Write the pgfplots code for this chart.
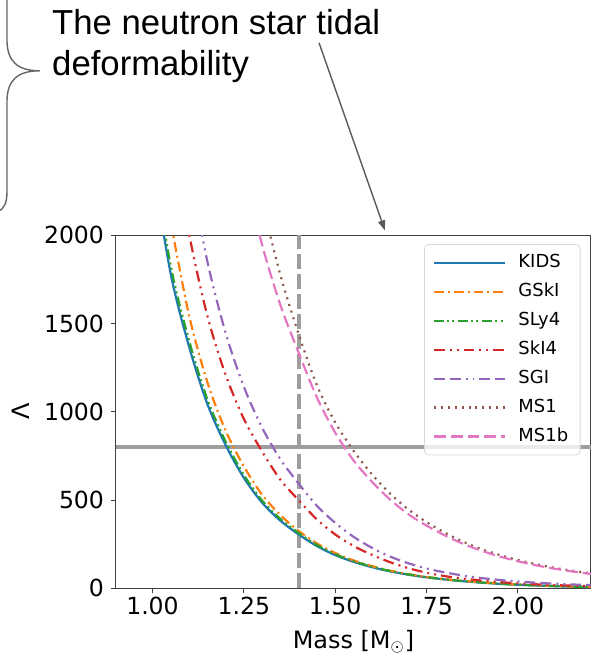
\documentclass[border=0pt]{standalone}
\usepackage{pgfplots}
\pgfplotsset{compat=1.18}
\usepackage{fontspec}
\setmainfont{DejaVu Sans}
\newfontfamily\arial{Liberation Sans}
\usetikzlibrary{arrows.meta}
\definecolor{cKIDS}{HTML}{1F77B4}
\definecolor{cGSkI}{HTML}{FF7F0E}
\definecolor{cSLy}{HTML}{2CA02C}
\definecolor{cSkI}{HTML}{D62728}
\definecolor{cSGI}{HTML}{9467BD}
\definecolor{cMS}{HTML}{8C564B}
\definecolor{cMSb}{HTML}{E377C2}

\pgfplotstableread{
M L
1.00 2400
1.05 1780
1.10 1370
1.15 1045
1.20 812
1.25 626
1.30 485
1.35 383
1.40 305
1.45 239
1.50 188
1.55 150
1.60 120
1.65 96
1.70 77
1.75 62
1.80 50
1.85 40
1.90 32
1.95 25
2.00 20
2.05 16
2.10 12
2.15 9
2.20 7
}\kids
\pgfplotstableread{
M L
1.05 2073
1.10 1547
1.15 1169
1.20 894
1.25 691
1.30 530
1.35 415
1.40 325
1.45 254
1.50 200
1.55 158
1.60 126
1.65 100
1.70 80
1.75 64
1.80 52
1.85 42
1.90 34
1.95 27
2.00 21.5
2.05 17
2.10 13
2.15 10
2.20 8
}\gski
\pgfplotstableread{
M L
1.00 2460
1.05 1825
1.10 1404
1.15 1071
1.20 832
1.25 642
1.30 497
1.35 393
1.40 313
1.45 245
1.50 193
1.55 154
1.60 123
1.65 98
1.70 79
1.75 63.5
1.80 51
1.85 41
1.90 33
1.95 26
2.00 20.5
2.05 16.5
2.10 12.5
2.15 9.5
2.20 7.2
}\sly
\pgfplotstableread{
M L
1.05 2633
1.10 2010
1.15 1545
1.20 1210
1.25 960
1.30 775
1.35 615
1.40 499
1.45 390
1.50 305
1.55 240
1.60 190
1.65 148
1.70 114
1.75 88
1.80 69
1.85 55
1.90 44
1.95 35
2.00 28
2.05 22.5
2.10 18
2.15 15
2.20 12
}\skI
\pgfplotstableread{
M L
1.10 2398
1.15 1853
1.20 1448
1.25 1142
1.30 910
1.35 731
1.40 593
1.45 467
1.50 371
1.55 292
1.60 230
1.65 180
1.70 142
1.75 112
1.80 90
1.85 72
1.90 58
1.95 47
2.00 38.5
2.05 31.5
2.10 26
2.15 21.5
2.20 18
}\sgi
\pgfplotstableread{
M L
1.30 2184
1.35 1775
1.40 1440
1.45 1150
1.50 940
1.55 780
1.60 647
1.65 537
1.70 447
1.75 375
1.80 315
1.85 264
1.90 222
1.95 189
2.00 160
2.05 136
2.10 116
2.15 99
2.20 85
}\msone
\pgfplotstableread{
M L
1.25 2377
1.30 1946
1.35 1605
1.40 1335
1.45 1081
1.50 882
1.55 725
1.60 605
1.65 503
1.70 420
1.75 355
1.80 300
1.85 252
1.90 213
1.95 180
2.00 153
2.05 130
2.10 111
2.15 95
2.20 81
}\msoneb

\begin{document}
\begin{tikzpicture}
\begin{axis}[
  name=main, anchor=south west,
  scale only axis, width=238.2pt, height=177pt,
  xmin=0.9, xmax=2.2, ymin=0, ymax=2000,
  axis line style={black!75, line width=0.5pt},
  tick style={black!75, line width=0.5pt},
  tick align=outside, major tick length=2.5pt,
  xtick={1,1.25,1.5,1.75,2}, ytick={0,500,1000,1500,2000},
  xtick pos=bottom, ytick pos=left,
  /pgf/number format/assume math mode=true,
  x tick label style={yshift=1.5pt, /pgf/number format/fixed, /pgf/number format/fixed zerofill, /pgf/number format/precision=2},
  y tick label style={/pgf/number format/fixed, /pgf/number format/1000 sep={}},
  scaled ticks=false,
  tick label style={font=\fontsize{11.8}{14}\selectfont},
  label style={font=\fontsize{12}{14}\selectfont},
  xlabel={Mass [M$_{\odot}$]}, ylabel={Λ},
  xlabel style={at={(axis description cs:0.5,-0.1695)}, anchor=base},
  ylabel style={at={(axis description cs:-0.2,0.5)}, anchor=center},
  legend style={at={(0.978,0.975)}, anchor=north east, draw=black!15, rounded corners=2pt,
    fill=white, fill opacity=0.8, text opacity=1, font=\fontsize{9}{11}\selectfont,
    inner xsep=4pt, inner ysep=2pt,
    nodes={text height=7pt, text depth=2pt, inner ysep=2.75pt},
    /tikz/every odd column/.append style={column sep=4pt}},
  legend cell align=left,
  legend image code/.code={\draw[#1] (0pt,0pt) -- (36pt,0pt);},
  every axis plot/.append style={line width=1.1pt},
]
\addplot[black!38, line width=1.8pt, forget plot] coordinates {(0.9,800) (2.2,800)};
\addplot[black!38, line width=2pt, dash pattern=on 7.5pt off 2.5pt, forget plot] coordinates {(1.4,0) (1.4,2000)};
\addplot[cKIDS, smooth] table[x=M,y=L] {\kids};
\addlegendentry{KIDS}
\addplot[cGSkI, smooth, dash pattern=on 5pt off 2pt on 1pt off 2pt] table[x=M,y=L] {\gski};
\addlegendentry{GSkI}
\addplot[cSLy, smooth, dash pattern=on 5pt off 1.7pt on 1pt off 1.7pt on 1pt off 1.7pt] table[x=M,y=L] {\sly};
\addlegendentry{SLy4}
\addplot[cSkI, smooth, dash pattern=on 5.5pt off 2.5pt on 1pt off 2.5pt on 1pt off 2.5pt] table[x=M,y=L] {\skI};
\addlegendentry{SkI4}
\addplot[cSGI, smooth, dash pattern=on 5.5pt off 2.5pt on 5.5pt off 2.5pt on 1pt off 2.5pt on 1pt off 2.5pt] table[x=M,y=L] {\sgi};
\addlegendentry{SGI}
\addplot[cMS, smooth, dash pattern=on 1pt off 2.5pt] table[x=M,y=L] {\msone};
\addlegendentry{MS1}
\addplot[cMSb, smooth, dash pattern=on 6pt off 2.5pt] table[x=M,y=L] {\msoneb};
\addlegendentry{MS1b}
\end{axis}
\begin{scope}[shift={(main.south west)}]
\useasboundingbox (-58.15pt,-35pt) rectangle (240.35pt,295pt);
\node[anchor=base west, inner sep=0, font=\arial\fontsize{17.4}{20}\selectfont] at (-32.15pt,277.5pt) {The neutron star tidal};
\node[anchor=base west, inner sep=0, font=\arial\fontsize{17.4}{20}\selectfont] at (-32.15pt,257pt) {deformability};
\draw[black!60, line width=0.7pt] (-54.65pt,296pt) -- (-54.65pt,275pt) .. controls (-54.65pt,264pt) and (-49.15pt,259.5pt) .. (-38.15pt,259.5pt) .. controls (-49.15pt,259.5pt) and (-54.65pt,255pt) .. (-54.65pt,244pt) -- (-54.65pt,198.5pt) .. controls (-54.65pt,193.5pt) and (-56.15pt,190pt) .. (-59.15pt,189pt);
\draw[black!65, line width=0.7pt, -{Triangle[length=5pt,width=3.6pt]}] (101.85pt,273.5pt) -- (134.85pt,179.5pt);
\end{scope}
\end{tikzpicture}
\end{document}
